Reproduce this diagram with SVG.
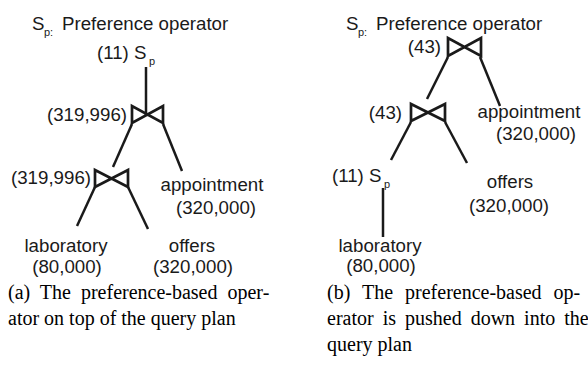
<svg xmlns="http://www.w3.org/2000/svg" width="588" height="369" viewBox="0 0 588 369">
<style>
.t{font-family:"Liberation Sans",Arial,sans-serif;font-size:18.7px;fill:#1a1a1a}
.s{font-family:"Liberation Sans",Arial,sans-serif;font-size:11px;fill:#1a1a1a}
.m{text-anchor:middle}
.e{text-anchor:end}
.c{font-family:"Liberation Serif","Times New Roman",serif;font-size:20px;fill:#000}
.bt{fill:none;stroke:#1a1a1a;stroke-width:2.7;stroke-linejoin:miter}
.ln{stroke:#1a1a1a;stroke-width:2.5;fill:none}
</style>
<rect width="588" height="369" fill="#fff"/>
<g id="connectors">
<line class="ln" x1="146" y1="67" x2="146" y2="114"/>
<line class="ln" x1="132" y1="124" x2="113" y2="167"/>
<line class="ln" x1="163" y1="124" x2="182" y2="171"/>
<line class="ln" x1="95" y1="187" x2="77" y2="226"/>
<line class="ln" x1="128" y1="187" x2="148" y2="229"/>
<line class="ln" x1="448" y1="57" x2="427" y2="99"/>
<line class="ln" x1="480" y1="57" x2="500" y2="106"/>
<line class="ln" x1="411" y1="122" x2="391" y2="160"/>
<line class="ln" x1="445" y1="122" x2="467" y2="163"/>
<line class="ln" x1="383" y1="188" x2="383" y2="237"/>
</g>
<g id="legend-a">
<text class="t" x="32" y="30">S</text><text class="s" x="44" y="36">p:</text><text class="t" x="62" y="30">Preference operator</text>
</g>
<g id="a-pref">
<text class="t" x="97" y="59">(11) S</text><text class="s" x="149" y="65">p</text>
</g>
<g id="a-join1">
<path class="bt" d="M132,106 L132,123 L163,106 L163,123 Z"/>
<text class="t e" x="127" y="121">(319,996)</text>
</g>
<g id="a-join2">
<path class="bt" d="M95,170 L95,187 L128,170 L128,187 Z"/>
<text class="t e" x="91" y="184">(319,996)</text>
</g>
<g id="a-appointment">
<text class="t m" x="212" y="191">appointment</text>
<text class="t m" x="216" y="214">(320,000)</text>
</g>
<g id="a-laboratory">
<text class="t m" x="66" y="252">laboratory</text>
<text class="t m" x="67" y="273">(80,000)</text>
</g>
<g id="a-offers">
<text class="t m" x="192" y="252">offers</text>
<text class="t m" x="193" y="273">(320,000)</text>
</g>
<g id="legend-b">
<text class="t" x="346" y="30">S</text><text class="s" x="358" y="36">p:</text><text class="t" x="376" y="30">Preference operator</text>
</g>
<g id="b-join1">
<path class="bt" d="M448,38 L448,56 L481,38 L481,56 Z"/>
<text class="t e" x="441" y="53">(43)</text>
</g>
<g id="b-join2">
<path class="bt" d="M411,104 L411,121 L445,104 L445,121 Z"/>
<text class="t e" x="402" y="119">(43)</text>
</g>
<g id="b-appointment">
<text class="t m" x="529" y="118">appointment</text>
<text class="t m" x="536" y="140">(320,000)</text>
</g>
<g id="b-pref">
<text class="t" x="332" y="182">(11) S</text><text class="s" x="384" y="188">p</text>
</g>
<g id="b-offers">
<text class="t m" x="510" y="188">offers</text>
<text class="t m" x="509" y="212">(320,000)</text>
</g>
<g id="b-laboratory">
<text class="t m" x="380" y="252">laboratory</text>
<text class="t m" x="381" y="272">(80,000)</text>
</g>
<g id="captions">
<text class="c" x="8" y="299" word-spacing="5">(a) The preference-based oper-</text>
<text class="c" x="8" y="325">ator on top of the query plan</text>
<text class="c" x="327" y="299" word-spacing="7">(b) The preference-based op-</text>
<text class="c" x="327" y="325" word-spacing="4">erator is pushed down into the</text>
<text class="c" x="327" y="351">query plan</text>
</g>
</svg>
